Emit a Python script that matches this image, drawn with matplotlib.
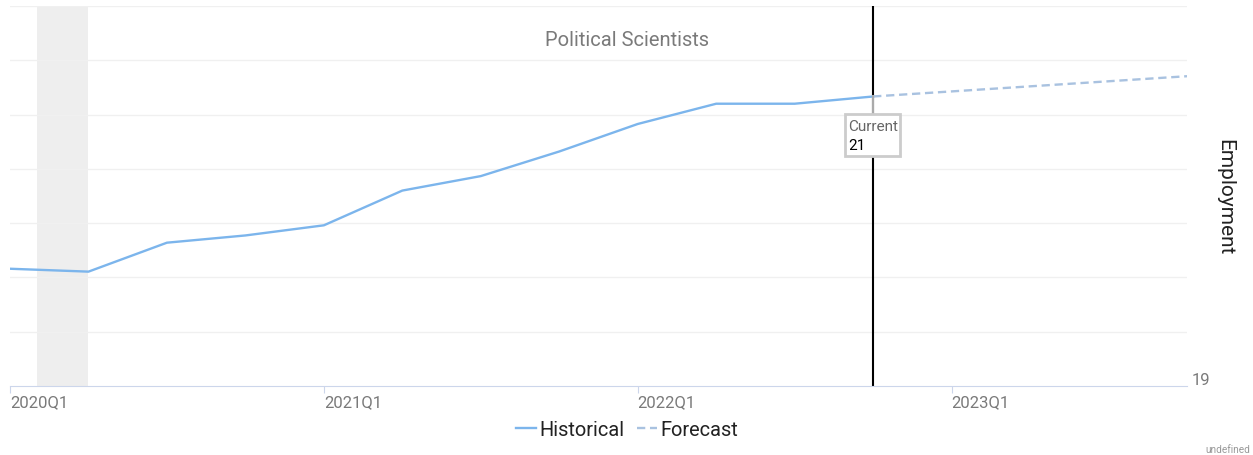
import matplotlib
matplotlib.use("Agg")
import matplotlib.pyplot as plt
from matplotlib.patches import Rectangle
from matplotlib.transforms import Affine2D, ScaledTranslation

plt.rcParams['font.family'] = ['Roboto', 'DejaVu Sans']

# Data
hist_quarters = ["2020Q1", "2020Q2", "2020Q3", "2020Q4", "2021Q1", "2021Q2", "2021Q3", "2021Q4",
                 "2022Q1", "2022Q2", "2022Q3", "2022Q4"]
hist_values = [19.81, 19.79, 19.99, 20.04, 20.11, 20.35, 20.45, 20.62, 20.81, 20.95, 20.95, 21.00]
fc_quarters = ["2022Q4", "2023Q1", "2023Q2", "2023Q3", "2023Q4"]
fc_values = [21.00, 21.035, 21.07, 21.105, 21.14]
all_quarters = hist_quarters + fc_quarters[1:]
tick_labels = ["2020Q1", "2021Q1", "2022Q1", "2023Q1"]
current_label = "Current"
current_value = 21
recession_start, recession_end = 0.34, 1.0
y_min, y_step, n_grid = 19.0, 0.375, 7

idx = {q: i for i, q in enumerate(all_quarters)}

DPI = 100
fig = plt.figure(figsize=(12.53, 4.56), dpi=DPI)
ax = fig.add_axes([10/1253, 69/456, 1177/1253, 380/456])

ax.axvspan(recession_start, recession_end, color='#eeeeee', zorder=0, lw=0)
for k in range(1, n_grid + 1):
    ax.axhline(y_min + k*y_step, color='#f0f0f0', lw=1, zorder=0.5)

ax.plot([idx[q] for q in hist_quarters], hist_values, color='#7cb5ec', lw=1.7, zorder=3,
        label='Historical')
ax.plot([idx[q] for q in fc_quarters], fc_values, color='#a9c2e0', lw=1.7, ls=(0, (3.5, 2)), zorder=3,
        label='Forecast')

cur_x = idx["2022Q4"]
cur_y = hist_values[-1]
ax.axvline(cur_x, color='black', lw=1.5, zorder=2)

ax.set_xlim(0, len(all_quarters) - 1)
ax.set_ylim(y_min, y_min + n_grid*y_step)

ax.set_xticks([idx[t] for t in tick_labels])
ax.set_xticklabels(tick_labels, ha='left', color='#7a7a7a', fontsize=12)
ax.tick_params(axis='x', length=5, color='#ccd6eb', pad=1)
ax.set_yticks([])
for s in ['top', 'right', 'left']:
    ax.spines[s].set_visible(False)
ax.spines['bottom'].set_color('#ccd6eb')

fig.text(627/1253, 1 - 40/456, "Political Scientists", ha='center', va='center',
         fontsize=14.5, color='#7a7a7a')

# Current annotation: positioned in pixel offsets from the current data point
anchor_tr = Affine2D().scale(1.0 / DPI) + fig.dpi_scale_trans + ScaledTranslation(cur_x, cur_y, ax.transData)
ax.add_line(plt.Line2D([0, 0], [0, -18], color='#aaaaaa', lw=1.5, transform=anchor_tr, zorder=4))
ax.add_patch(Rectangle((-28, -60), 55, 42, transform=anchor_tr, fc='white', ec='#cccccc',
                       lw=2, zorder=5))
ax.text(-25, -30, current_label, transform=anchor_tr, ha='left', va='center',
        fontsize=11, color='#666666', zorder=6)
ax.text(-25, -49, str(current_value), transform=anchor_tr, ha='left', va='center',
        fontsize=11, color='black', zorder=6)

# right axis label and bottom value
fig.text(1225/1253, 1 - 197/456, "Employment", rotation=-90, ha='center', va='center',
         fontsize=15, color='#222222')
fig.text(1192/1253, 1 - 388/456, "19", ha='left', va='bottom', fontsize=12, color='#7a7a7a')
fig.text(1250/1253, 1 - 450/456, "undefined", ha='right', va='center', fontsize=7.2, color='#999999')

leg = fig.legend(loc='center', bbox_to_anchor=(627/1253, 1 - 430/456), ncol=2, frameon=False,
                 fontsize=14.4, handlelength=1.0, handletextpad=0.2, columnspacing=0.6)
for t in leg.get_texts():
    t.set_color('#222222')

fig.savefig("out.png", dpi=DPI)
